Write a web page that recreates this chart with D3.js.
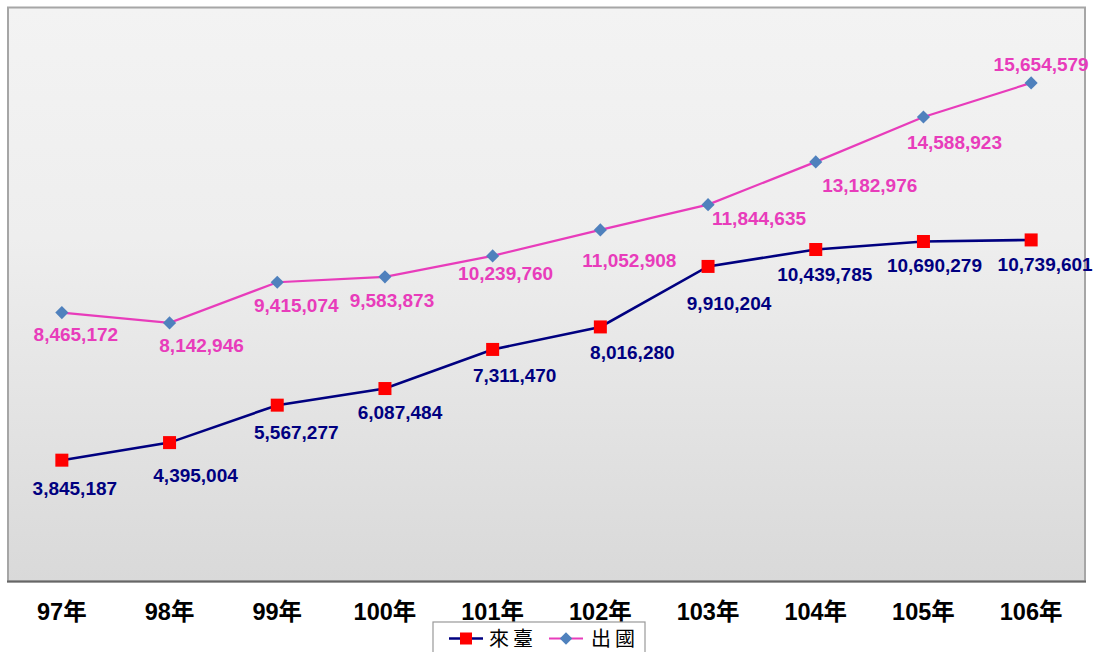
<!DOCTYPE html>
<html><head><meta charset="utf-8">
<script src="https://d3js.org/d3.v7.min.js"></script>
<style>
html,body{margin:0;padding:0;background:#fff;}
svg{display:block;}
</style></head>
<body>
<svg id="chart" width="1104" height="652"></svg>
<script>
// ---- data ----
const categories = ["97年","98年","99年","100年","101年","102年","103年","104年","105年","106年"];
const inbound  = [3845187, 4395004, 5567277, 6087484, 7311470, 8016280, 9910204, 10439785, 10690279, 10739601]; // 來臺
const outbound = [8465172, 8142946, 9415074, 9583873, 10239760, 11052908, 11844635, 13182976, 14588923, 15654579]; // 出國
const seriesNames = ["來臺","出國"];
const yMax = 18000000;

// label nudges (layout only)
const inboundLabelDx  = [13, 26, 19, 15, 22, 32, 21, 9, 11, 14];
const inboundLabelDy  = [28, 33, 27, 24, 26, 25, 37, 25, 24, 24];
const outboundLabelDx = [14, 32, 19, 7, 13, 29, 51, 54, 31, 10];
const outboundLabelDy = [22, 22, 23, 23, 17, 30, 14, 23, 25.5, -19];

const svg = d3.select("#chart");
const plot = {x0: 8, x1: 1085, y0: 7.5, y1: 581.5};

const defs = svg.append("defs");
const grad = defs.append("linearGradient").attr("id","bg").attr("x1",0).attr("y1",0).attr("x2",0).attr("y2",1);
grad.append("stop").attr("offset","0%").attr("stop-color","#f3f3f3");
grad.append("stop").attr("offset","40%").attr("stop-color","#eeeeee");
grad.append("stop").attr("offset","100%").attr("stop-color","#d9d9d9");

svg.append("rect").attr("x",plot.x0).attr("y",plot.y0)
  .attr("width",plot.x1-plot.x0).attr("height",plot.y1-plot.y0)
  .attr("fill","url(#bg)").attr("stroke","#a6a6a6").attr("stroke-width",2);
svg.append("line").attr("x1",plot.x0-1).attr("x2",plot.x1+1).attr("y1",plot.y1).attr("y2",plot.y1)
  .attr("stroke","#666").attr("stroke-width",2);

const x = d3.scaleBand().domain(categories).range([plot.x0, plot.x1]);
const y = d3.scaleLinear().domain([0, yMax]).range([583, 8]);
const cx = c => x(c) + x.bandwidth()/2;

// x axis labels
const xAxis = d3.axisBottom(x).tickSize(0).tickPadding(0);
const gx = svg.append("g").attr("transform",`translate(0,${plot.y1})`).call(xAxis);
gx.select(".domain").remove();
gx.selectAll("text")
  .attr("y", 38.5).attr("dy", 0)
  .attr("fill","#000")
  .style("font-family","'Liberation Sans', Arial, 'Noto Sans CJK TC', sans-serif")
  .style("font-weight","bold").style("font-size","23.5px");

const line = d3.line().x((d,i)=>cx(categories[i])).y(d=>y(d));

const pink = "#e83cbb", navy = "#000080";
svg.append("path").datum(outbound).attr("d",line).attr("fill","none")
  .attr("stroke",pink).attr("stroke-width",2.2);
svg.append("path").datum(inbound).attr("d",line).attr("fill","none")
  .attr("stroke",navy).attr("stroke-width",2.6);

svg.append("g").selectAll("path").data(outbound).join("path")
  .attr("d", d3.symbol().type(d3.symbolDiamond2).size(110))
  .attr("transform",(d,i)=>`translate(${cx(categories[i])},${y(d)})`)
  .attr("fill","#4f81bd");

svg.append("g").selectAll("rect").data(inbound).join("rect")
  .attr("x",(d,i)=>cx(categories[i])-6.5).attr("y",d=>y(d)-6.5)
  .attr("width",13).attr("height",13).attr("fill","#ff0000");

const fmt = d3.format(",");
const labelFont = "'Liberation Sans', Arial, sans-serif";
svg.append("g").selectAll("text").data(outbound).join("text")
  .attr("x",(d,i)=>cx(categories[i])+outboundLabelDx[i])
  .attr("y",(d,i)=>y(d)+outboundLabelDy[i]).attr("dy","0.36em")
  .attr("text-anchor","middle").attr("fill",pink)
  .style("font-family",labelFont).style("font-weight","bold").style("font-size","19px")
  .text(d=>fmt(d));
svg.append("g").selectAll("text").data(inbound).join("text")
  .attr("x",(d,i)=>cx(categories[i])+inboundLabelDx[i])
  .attr("y",(d,i)=>y(d)+inboundLabelDy[i]).attr("dy","0.36em")
  .attr("text-anchor","middle").attr("fill",navy)
  .style("font-family",labelFont).style("font-weight","bold").style("font-size","19px")
  .text(d=>fmt(d));

// legend
const lg = svg.append("g");
lg.append("rect").attr("x",433).attr("y",622).attr("width",212).attr("height",40)
  .attr("fill","#fff").attr("stroke","#999").attr("stroke-width",1.2);
const ly = 638.5;
lg.append("line").attr("x1",449).attr("x2",483).attr("y1",ly).attr("y2",ly).attr("stroke",navy).attr("stroke-width",2.6);
lg.append("rect").attr("x",466-6).attr("y",ly-6).attr("width",12).attr("height",12).attr("fill","#ff0000");
lg.append("text").attr("x",489).attr("y",ly).attr("dy","0.36em").text(seriesNames[0])
  .style("font-family","'Noto Sans CJK TC', sans-serif").style("font-size","20px").style("letter-spacing","4px").attr("fill","#000");
lg.append("line").attr("x1",549).attr("x2",583).attr("y1",ly).attr("y2",ly).attr("stroke",pink).attr("stroke-width",2.2);
lg.append("path").attr("d",d3.symbol().type(d3.symbolDiamond2).size(100)).attr("transform",`translate(566,${ly})`).attr("fill","#4f81bd");
lg.append("text").attr("x",591).attr("y",ly).attr("dy","0.36em").text(seriesNames[1])
  .style("font-family","'Noto Sans CJK TC', sans-serif").style("font-size","20px").style("letter-spacing","4px").attr("fill","#000");
</script>
</body></html>
